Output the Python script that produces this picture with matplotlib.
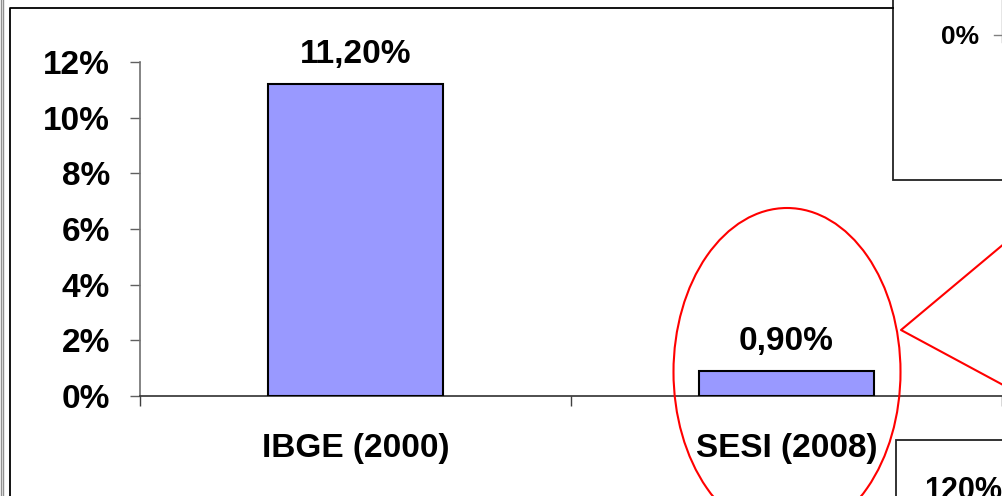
import matplotlib.pyplot as plt
from matplotlib.patches import Ellipse, Rectangle

plt.rcParams['font.family'] = ['Liberation Sans', 'DejaVu Sans']
plt.rcParams['font.weight'] = 'bold'

categories = ["IBGE (2000)", "SESI (2008)"]
values = [11.20, 0.90]
value_labels = ["11,20%", "0,90%"]
yticks = [0, 2, 4, 6, 8, 10, 12]

W, H = 1003, 496
fig = plt.figure(figsize=(W / 100, H / 100), dpi=100)

# main chart area
ax = fig.add_axes([140 / W, 100 / H, 862 / W, 334 / H])
pos = list(range(len(categories)))
ax.bar(pos, values, width=0.405, color="#9999FF", edgecolor="black", linewidth=1.5, zorder=3)
for i, v in enumerate(values):
    ax.annotate(value_labels[i], (pos[i], v), xytext=(0, 15), textcoords="offset points",
                ha="center", va="baseline", fontsize=24, fontweight="bold")

ax.set_xlim(-0.5, len(categories) - 0.5)
ax.set_ylim(0, 12)
ax.set_yticks(yticks)
ax.set_yticklabels([f"{t}%" for t in yticks], fontsize=24, fontweight="bold")
ax.set_xticks(pos)
ax.set_xticklabels(categories, fontsize=24, fontweight="bold")
ax.set_xticks([p - 0.5 for p in pos] + [pos[-1] + 0.5], minor=True)
ax.tick_params(axis="x", which="major", length=0, pad=27)
ax.tick_params(axis="x", which="minor", length=7.5, width=1, color="#404040", direction="out")
ax.tick_params(axis="y", length=7.5, width=1, color="#606060", pad=14)
for s in ["top", "right"]:
    ax.spines[s].set_visible(False)
ax.spines["left"].set_color("#707070")
ax.spines["bottom"].set_color("#303030")
ax.spines["left"].set_linewidth(1.2)
ax.spines["bottom"].set_linewidth(1.2)
ax.patch.set_alpha(0)

# overlay for frame, insets and callout (pixel coordinates)
ov = fig.add_axes([0, 0, 1, 1], zorder=5)
ov.set_xlim(0, W)
ov.set_ylim(H, 0)
ov.axis("off")
ov.patch.set_alpha(0)

ov.plot([1, 1], [0, H], color="#909090", lw=1)
ov.plot([3.5, 3.5], [0, H], color="#909090", lw=1)
ov.plot([10, 10, 893], [H, 8, 8], color="black", lw=1.3)

# top-right inset
ov.add_patch(Rectangle((893, -10), 130, 190, facecolor="white", edgecolor="#222222", lw=1.3))
ov.text(960, 37, "0%", ha="center", va="center", fontsize=19, fontweight="bold")
ov.plot([1002, 1002], [0, 42], color="#808080", lw=1)
ov.plot([994, 1003], [35, 35], color="#808080", lw=1)

# bottom-right inset (its label is cut by the image edge, as in the source)
ov.add_patch(Rectangle((896, 440), 130, 80, facecolor="white", edgecolor="#222222", lw=1.3))
ov.text(924, 476, "120%", ha="left", va="top", fontsize=22, fontweight="bold")

# red callout
ov.add_patch(Ellipse((787, 372), 227, 328, facecolor="none", edgecolor="red", lw=1.5))
ov.plot([1005, 901, 1005], [243, 330, 386], color="red", lw=1.5)

fig.savefig("out.png", dpi=100)
